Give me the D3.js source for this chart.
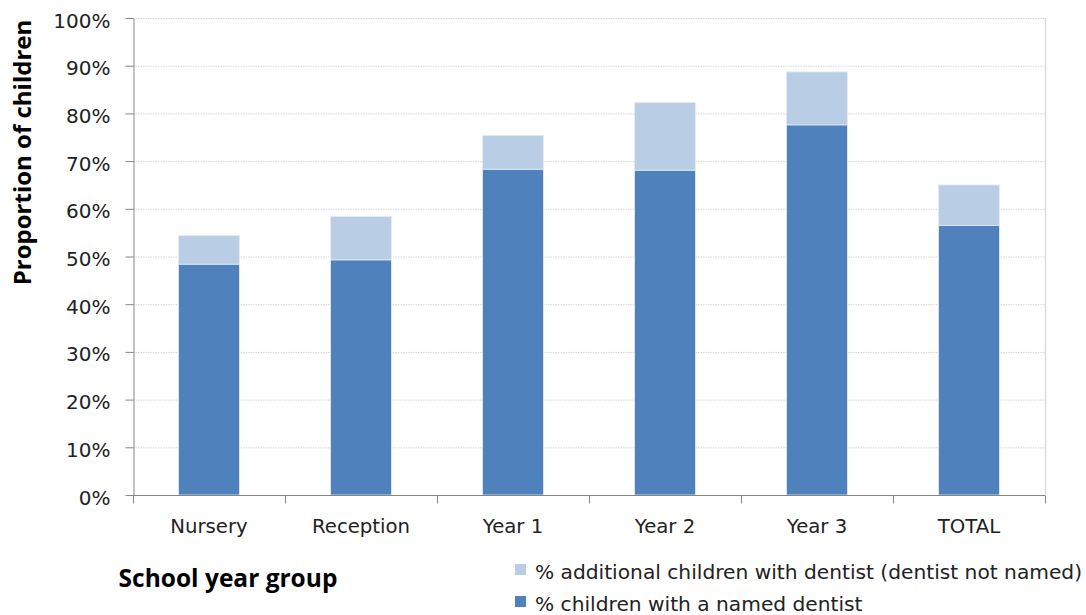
<!DOCTYPE html>
<html>
<head>
<meta charset="utf-8">
<script src="https://cdn.jsdelivr.net/npm/d3@7"></script>
<style>
  html, body { margin: 0; padding: 0; background: #fff; }
  svg { display: block; font-family: "DejaVu Sans", sans-serif; }
</style>
</head>
<body>
<svg id="chart" width="1086" height="615"></svg>
<script>
const categories = ["Nursery", "Reception", "Year 1", "Year 2", "Year 3", "TOTAL"];
const namedDentist = [48.4, 49.3, 68.3, 68.1, 77.6, 56.5];
const totalWithDentist = [54.4, 58.4, 75.4, 82.3, 88.7, 65.0];
const additionalDentist = totalWithDentist.map((t, i) => +(t - namedDentist[i]).toFixed(1));
const yTicks = [0, 10, 20, 30, 40, 50, 60, 70, 80, 90, 100];
const seriesNames = ["% additional children with dentist (dentist not named)", "% children with a named dentist"];
const seriesColors = ["#B9CDE5", "#4F81BD"];

const svg = d3.select("#chart");
const margin = { left: 133, right: 1045, top: 18, bottom: 495 };

const x = d3.scaleBand().domain(categories).range([margin.left, margin.right]).paddingInner(0.6).paddingOuter(0.3);
const xOuter = d3.scaleBand().domain(categories).range([margin.left, margin.right]);
const y = d3.scaleLinear().domain([0, 100]).range([margin.bottom, margin.top]);

// gridlines
svg.append("g").selectAll("line").data(yTicks.filter(d => d > 0)).join("line")
  .attr("x1", margin.left).attr("x2", margin.right)
  .attr("y1", d => y(d) + 0.5).attr("y2", d => y(d) + 0.5)
  .attr("stroke", "#d4d4d4").attr("stroke-width", 1).attr("stroke-dasharray", "1.5,1");

// right border of plot area
svg.append("line")
  .attr("x1", margin.right + 0.5).attr("x2", margin.right + 0.5)
  .attr("y1", margin.top).attr("y2", margin.bottom)
  .attr("stroke", "#dcdcdc").attr("stroke-width", 1.5);

// stacked bars
const rows = categories.map((c, i) => ({ cat: c, named: namedDentist[i], additional: additionalDentist[i] }));
const stack = d3.stack().keys(["named", "additional"])(rows);
const colorByKey = { named: seriesColors[1], additional: seriesColors[0] };

svg.append("g").selectAll("g").data(stack).join("g")
  .attr("fill", d => colorByKey[d.key])
  .selectAll("rect").data(d => d).join("rect")
  .attr("x", d => x(d.data.cat))
  .attr("width", x.bandwidth())
  .attr("y", d => y(d[1]))
  .attr("height", d => y(d[0]) - y(d[1]))
  .attr("stroke", "#e4ecf6").attr("stroke-width", 0.8);

// y axis
const yAxis = d3.axisLeft(y).tickValues(yTicks).tickFormat(d => d + "%").tickSize(8).tickSizeOuter(0);
const gy = svg.append("g").attr("transform", `translate(${margin.left + 0.5},0)`).call(yAxis);
gy.select(".domain").attr("stroke", "#868686");
gy.selectAll(".tick line").attr("stroke", "#868686");
gy.selectAll(".tick text").attr("x", -23).attr("dy", "0.45em").attr("font-size", 20).attr("fill", "#222").attr("font-family", "'DejaVu Sans', sans-serif");

// x axis
const gx = svg.append("g").attr("transform", `translate(0,${margin.bottom + 0.5})`);
gx.append("line").attr("x1", margin.left).attr("x2", margin.right).attr("stroke", "#868686");
const xBounds = categories.map(c => xOuter(c)).concat([margin.right]);
gx.selectAll(".xtick").data(xBounds).join("line")
  .attr("class", "xtick")
  .attr("x1", d => Math.round(d) + 0.5).attr("x2", d => Math.round(d) + 0.5)
  .attr("y1", 0).attr("y2", 8).attr("stroke", "#868686");
gx.selectAll(".xlab").data(categories).join("text")
  .attr("class", "xlab")
  .attr("x", d => xOuter(d) + xOuter.bandwidth() / 2)
  .attr("y", 37.5)
  .attr("text-anchor", "middle")
  .attr("font-size", 19.7).attr("fill", "#222")
  .text(d => d);

// axis titles
svg.append("text")
  .attr("transform", `translate(31,152.5) rotate(-90)`)
  .attr("text-anchor", "middle")
  .attr("font-family", "'Open Sans', sans-serif")
  .attr("font-size", 24).attr("font-weight", "bold").attr("fill", "#000")
  .text("Proportion of children");

svg.append("text")
  .attr("x", 228).attr("y", 587)
  .attr("text-anchor", "middle")
  .attr("font-family", "'Open Sans', sans-serif")
  .attr("font-size", 24.5).attr("font-weight", "bold").attr("fill", "#000")
  .text("School year group");

// legend
const legend = svg.append("g").attr("transform", "translate(515,564)");
const items = legend.selectAll("g").data(seriesNames).join("g")
  .attr("transform", (d, i) => `translate(0,${i * 32})`);
items.append("rect").attr("width", 11).attr("height", 11).attr("fill", (d, i) => seriesColors[i]);
items.append("text").attr("x", 20).attr("y", 14.5).attr("font-size", 20.2).attr("fill", "#222").text(d => d);
</script>
</body>
</html>
